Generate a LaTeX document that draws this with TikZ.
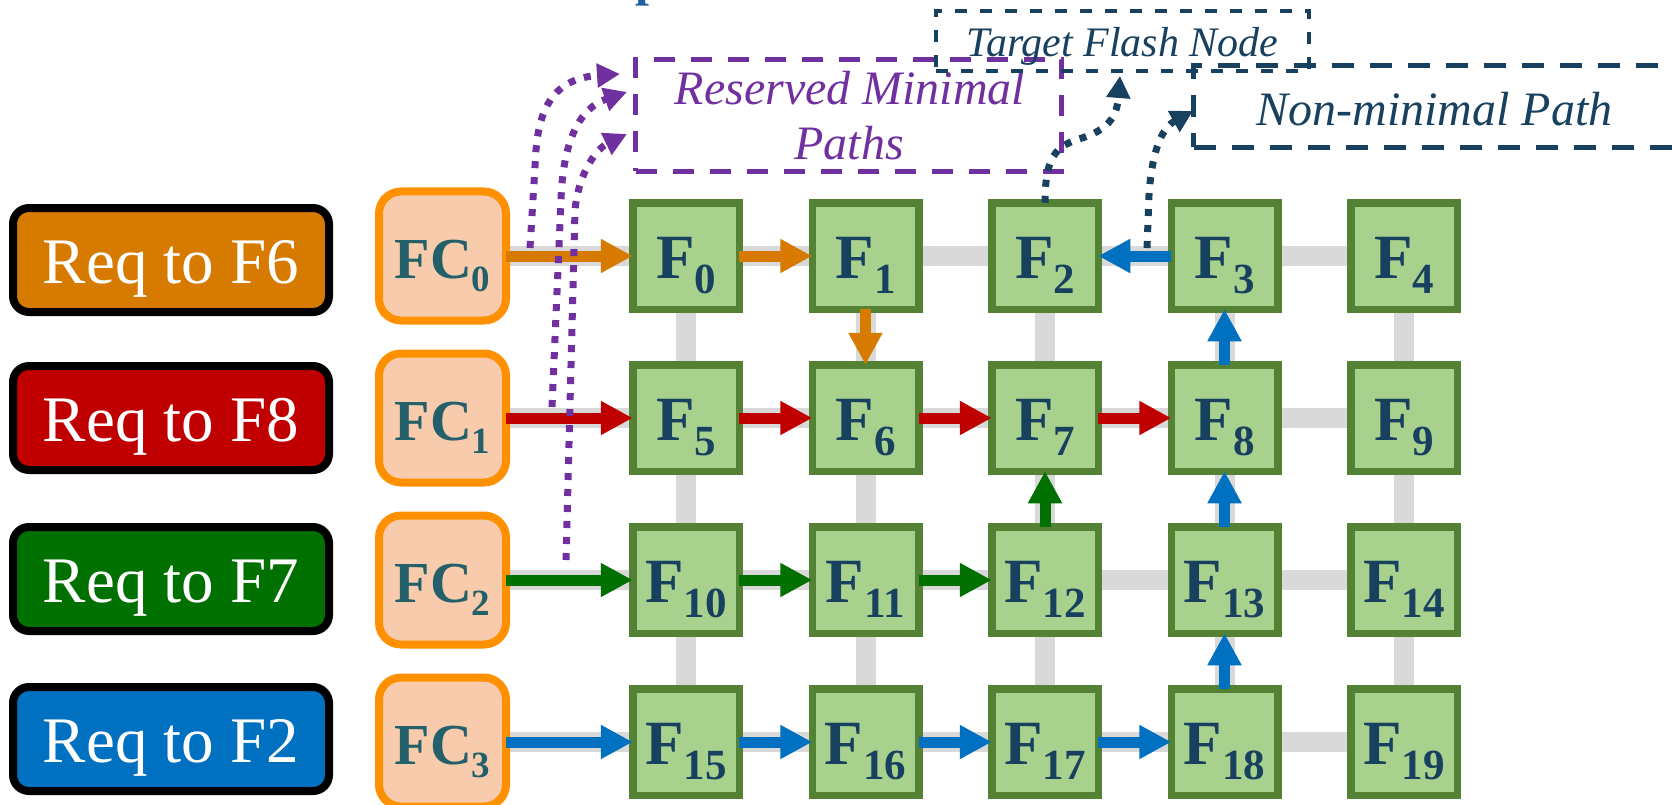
\documentclass[tikz,border=0pt]{standalone}
\usepackage{fontspec}
\setmainfont{Liberation Serif}
\usetikzlibrary{arrows.meta}
\definecolor{reqorange}{HTML}{D77A00}
\definecolor{reqred}{HTML}{C00000}
\definecolor{reqgreen}{HTML}{007000}
\definecolor{reqblue}{HTML}{0070C0}
\definecolor{fcfill}{HTML}{F8CBAD}
\definecolor{fcdraw}{HTML}{FF9000}
\definecolor{fcfont}{HTML}{24606A}
\definecolor{ffill}{HTML}{A9D18E}
\definecolor{fdraw}{HTML}{548235}
\definecolor{ffont}{HTML}{18405F}
\definecolor{navy}{HTML}{18405F}
\definecolor{purp}{HTML}{7030A0}
\definecolor{bandgray}{HTML}{D9D9D9}
\definecolor{titleblue}{HTML}{2060A0}
\newcommand{\mkF}[1]{{\fontsize{63}{63}\selectfont F}\raisebox{-15pt}{\fontsize{43}{43}\selectfont #1}}
\newcommand{\mkFC}[1]{{\fontsize{58}{58}\selectfont FC}\raisebox{-13pt}{\fontsize{37}{37}\selectfont #1}}
\pgfdeclarelayer{bg}
\pgfsetlayers{bg,main}
\begin{document}
\begin{tikzpicture}[x=1pt,y=-1pt,
  reqbox/.style={draw=black, line width=8pt, rounded corners=16pt, minimum width=316pt, minimum height=104pt, inner sep=0pt, outer sep=0pt, text=white, font=\fontsize{65}{70}\selectfont, text height=46pt, text depth=0pt},
  fcbox/.style={draw=fcdraw, fill=fcfill, line width=8pt, rounded corners=22pt, minimum width=127pt, minimum height=129pt, inner sep=0pt, outer sep=0pt, text=fcfont, font=\bfseries, text height=45pt, text depth=0pt},
  fbox/.style={draw=fdraw, fill=ffill, line width=7.5pt, minimum width=106.5pt, minimum height=106.5pt, inner sep=0pt, outer sep=0pt, text=ffont, font=\bfseries, text height=44pt, text depth=0pt},
  gridline/.style={draw=bandgray, line width=20pt},
  flow/.style={line width=11pt, -{Triangle[length=32pt,width=32pt]}},
  purpdot/.style={draw=purp, line width=7pt, dash pattern=on 7pt off 9pt, -{Triangle[length=23pt,width=23pt,fill=purp]}},
  navydot/.style={draw=navy, line width=7pt, dash pattern=on 7pt off 9pt, -{Triangle[length=22pt,width=23pt,fill=navy]}},
  purpbox/.style={draw=purp, line width=5pt, dash pattern=on 21pt off 16pt, minimum width=426pt, minimum height=112pt, inner sep=0pt},
  purptext/.style={text=purp, font=\itshape\fontsize{48}{55}\selectfont, anchor=base, inner sep=0pt},
  tfnbox/.style={draw=navy, line width=4pt, dash pattern=on 12pt off 13pt, minimum width=373pt, minimum height=60pt, inner sep=0pt, text=navy, font=\itshape\fontsize{42}{48}\selectfont, text height=32pt, text depth=0pt},
  nmpbox/.style={draw=navy, line width=5pt, dash pattern=on 22pt off 16pt, minimum width=495pt, minimum height=82pt, inner sep=0pt},
  navytext/.style={text=navy, font=\itshape\fontsize{48}{55}\selectfont, anchor=base, inner sep=0pt}
]
\useasboundingbox (0,0) rectangle (1672,805);
\clip (0,0) rectangle (1672,805);

% cut-off title fragment
\node[anchor=base west, inner sep=0pt, text=titleblue, font=\bfseries\fontsize{50}{50}\selectfont] (ttl) at (635,-4) {p};

% request boxes
\node[reqbox, fill=reqorange] (r0) at (171,260) {Req to F6};
\node[reqbox, fill=reqred] (r1) at (171,418) {Req to F8};
\node[reqbox, fill=reqgreen] (r2) at (171,579) {Req to F7};
\node[reqbox, fill=reqblue] (r3) at (171,739) {Req to F2};

% flash controllers
\foreach \r/\y in {0/256,1/418,2/580,3/742}
  \node[fcbox] (fc\r) at (442.5,\y) {\mkFC{\r}};

% flash nodes
\foreach \r/\y in {0/256,1/418,2/580,3/742}{
  \foreach \c in {0,...,4}{
    \pgfmathtruncatemacro{\n}{5*\r+\c}
    \node[fbox] (f\n) at ({686+179.5*\c},\y) {\mkF{\n}};
  }
}

% grid bands
\begin{pgfonlayer}{bg}
\foreach \r/\e in {0/4,1/9,2/14,3/19}
  \draw[gridline] (fc\r.center) -- (f\e.center);
\foreach \c/\e in {0/15,1/16,2/17,3/18,4/19}
  \draw[gridline] (f\c.center) -- (f\e.center);
\end{pgfonlayer}

% request flows
\draw[flow, reqorange] (fc0.east) -- (f0.west);
\draw[flow, reqorange] (f0.east) -- (f1.west);
\draw[flow, reqorange] (f1.south) -- (f6.north);

\draw[flow, reqred] (fc1.east) -- (f5.west);
\draw[flow, reqred] (f5.east) -- (f6.west);
\draw[flow, reqred] (f6.east) -- (f7.west);
\draw[flow, reqred] (f7.east) -- (f8.west);

\draw[flow, reqgreen] (fc2.east) -- (f10.west);
\draw[flow, reqgreen] (f10.east) -- (f11.west);
\draw[flow, reqgreen] (f11.east) -- (f12.west);
\draw[flow, reqgreen] (f12.north) -- (f7.south);

\draw[flow, reqblue] (fc3.east) -- (f15.west);
\draw[flow, reqblue] (f15.east) -- (f16.west);
\draw[flow, reqblue] (f16.east) -- (f17.west);
\draw[flow, reqblue] (f17.east) -- (f18.west);
\draw[flow, reqblue] (f18.north) -- (f13.south);
\draw[flow, reqblue] (f13.north) -- (f8.south);
\draw[flow, reqblue] (f8.north) -- (f3.south);
\draw[flow, reqblue] (f3.west) -- (f2.east);

% label boxes
\node[purpbox] (rmp) at (848.5,115.5) {};
\node[purptext] (rmpa) at (850,105) {Reserved Minimal};
\node[purptext] (rmpb) at (849,160) {Paths};
\node[tfnbox] (tfn) at (1122.5,41) {Target Flash Node};
\node[nmpbox] (nmp) at (1441,106.5) {};
\node[navytext] (nmpt) at (1434.5,126) {Non-minimal Path};

% dotted connectors
\coordinate (po) at (530,248);
\coordinate (pm) at (552,407);
\coordinate (pi) at (566,560);
\coordinate (to) at (620,74);
\coordinate (tm) at (627,92);
\coordinate (ti) at (627,134);
\coordinate (pn) at (1147,248);
\coordinate (tt) at (1120,76);
\coordinate (tn) at (1193,111);

\draw[purpdot] (po) -- (536,150) .. controls (540,100) and (560,78) .. (to);
\draw[purpdot] (pm) -- (561,200) .. controls (563,140) and (580,108) .. (tm);
\draw[purpdot] (pi) -- (575,210) .. controls (579,170) and (598,148) .. (ti);

\draw[navydot] (f2.north) .. controls (1045,150) and (1060,145) .. (1085,137) .. controls (1110,128) and (1117,115) .. (tt);
\draw[navydot] (pn) -- (1149,195) .. controls (1152,150) and (1162,128) .. (tn);
\end{tikzpicture}
\end{document}
